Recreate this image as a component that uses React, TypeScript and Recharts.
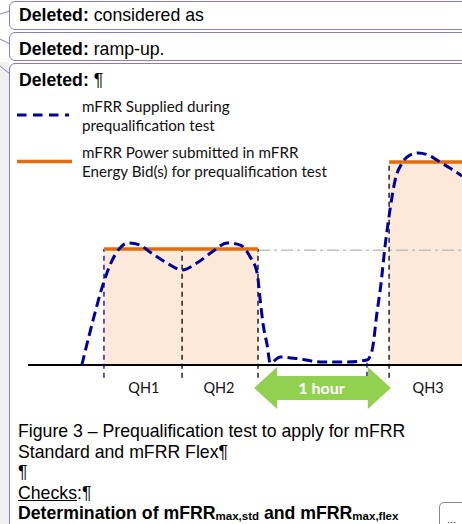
import React from 'react';
import {
  ComposedChart,
  Line,
  XAxis,
  YAxis,
  ReferenceArea,
  ReferenceLine,
  ReferenceDot,
  Legend,
} from 'recharts';

// Abstract time axis (0..100) and power axis (100 = bid power in QH1/QH2)
const supplyTime = [
  12.4, 15.0, 17.1, 18.9, 21.2, 23.0, 25.8, 28.1, 32.0, 35.5, 38.9, 42.4, 45.9, 48.9, 51.2,
  52.8, 53.5, 54.2, 55.1, 55.8, 58.1, 62.7, 67.3, 73.5, 78.1, 79.3, 80.4, 81.3, 82.3, 83.4,
  84.6, 86.2, 88.0, 89.9, 92.2, 94.9, 97.2, 100,
];
const supplyPower = [
  0, 38.8, 67.2, 86.2, 100.9, 105.2, 103.4, 97.4, 87.9, 81.9, 87.9, 97.4, 105.2, 103.4, 93.1,
  79.3, 56, 34.5, 17.2, 1.7, 6.9, 5.2, 2.6, 2.6, 4.3, 12.9, 44.8, 69, 103.4, 133.6,
  159.5, 174.1, 181, 182.8, 181, 175, 169.8, 162.9,
];

const quarterHours = ['QH1', 'QH2', 'QH3'];
const qhStart = [17.5, 35.5, 83.2];
const qhLabelTime = [26.7, 44, 92.2];
const bidStart = [17.5, 83.2];
const bidEnd = [53, 100];
const bidPower = [100, 175];
const dividerTime = [35.5, 53, 83.2];
const dividerTop = [100, 100, 175];
const hourStart = 52.1;
const hourEnd = 83.6;
const hourMark = 78.1;
const hourLabel = '1 hour';

const legendLabels = [
  ['mFRR Supplied during', 'prequalification test'],
  ['mFRR Power submitted in mFRR', 'Energy Bid(s) for prequalification test'],
];

const BLUE = '#00009c';
const ORANGE = '#e46c0a';
const PEACH = '#fde9d9';
const GREEN = '#92d050';
const PURPLE = '#8c7bc0';

const data = supplyTime.map((t, i) => ({ t, power: supplyPower[i] }));

const legendFont = 'Lato, "Open Sans", sans-serif';

const renderLegend = () => (
  <div style={{ position: 'relative', width: 0, height: 0 }}>
    <svg
      style={{ position: 'absolute', left: 0, top: 0, overflow: 'visible' }}
      width={80}
      height={180}
    >
      <line x1={17} y1={115} x2={69} y2={115} stroke={BLUE} strokeWidth={3} strokeDasharray="9.5 6.5" />
      <line x1={17} y1={161.5} x2={72} y2={161.5} stroke={ORANGE} strokeWidth={3.5} />
    </svg>
    {legendLabels.map((lines, i) => (
      <div
        key={i}
        style={{
          position: 'absolute',
          left: 82,
          top: i === 0 ? 97 : 143,
          whiteSpace: 'nowrap',
          fontFamily: legendFont,
          fontSize: 15.2,
          lineHeight: '18.5px',
          color: '#111',
        }}
      >
        {lines.map((l, j) => (
          <div key={j}>{l}</div>
        ))}
      </div>
    ))}
  </div>
);

const ArrowShape = (props: any) => {
  const { x, y, width, height } = props;
  const head = 23;
  const inset = height * 0.215;
  const midY = y + height / 2;
  const pts = [
    [x, midY],
    [x + head, y],
    [x + head, y + inset],
    [x + width - head, y + inset],
    [x + width - head, y],
    [x + width, midY],
    [x + width - head, y + height],
    [x + width - head, y + height - inset],
    [x + head, y + height - inset],
    [x + head, y + height],
  ]
    .map((p) => p.join(','))
    .join(' ');
  return (
    <g>
      <polygon points={pts} fill={GREEN} />
      <text
        x={x + width / 2 - 1}
        y={midY + 6}
        textAnchor="middle"
        fill="#fff"
        fontFamily={legendFont}
        fontWeight={700}
        fontSize={16}
      >
        {hourLabel}
      </text>
    </g>
  );
};

const QhLabel = (label: string) => (props: any) => (
  <text
    x={props.cx}
    y={props.cy + 1.5}
    textAnchor="middle"
    fill="#111"
    fontFamily={legendFont}
    fontSize={14.5}
  >
    {label}
  </text>
);

const docFont = '"Liberation Sans", Arial, sans-serif';
const docSize = 17.7;

const boxStyle = (top: number, height: number): React.CSSProperties => ({
  position: 'absolute',
  left: 9,
  top,
  width: 480,
  height,
  border: `1.5px solid ${PURPLE}`,
  borderRadius: 6,
  boxSizing: 'border-box',
  background: '#fff',
});

const deletedLine = (top: number, rest: string) => (
  <div
    style={{
      position: 'absolute',
      left: 19,
      top,
      fontFamily: docFont,
      fontSize: docSize,
      lineHeight: '20px',
      whiteSpace: 'nowrap',
      color: '#000',
    }}
  >
    <b>Deleted:</b> {rest}
  </div>
);

export default function App() {
  return (
    <div
      style={{
        position: 'absolute',
        left: 0,
        top: 0,
        width: 462,
        height: 524,
        overflow: 'hidden',
        background: '#fff',
      }}
    >
      <div style={{ position: 'absolute', left: 0, top: 62, width: 9, height: 470, background: '#f0f0f0' }} />
      <svg style={{ position: 'absolute', left: 0, top: 0 }} width={12} height={80}>
        <line x1={0} y1={14} x2={10} y2={11} stroke={PURPLE} strokeWidth={1} />
        <line x1={0} y1={39} x2={10} y2={44} stroke={PURPLE} strokeWidth={1} />
        <line x1={0} y1={66} x2={10} y2={74} stroke={PURPLE} strokeWidth={1} />
      </svg>
      <div style={boxStyle(1, 29)} />
      <div style={boxStyle(32, 29)} />
      <div style={boxStyle(63, 500)} />
      {deletedLine(5, 'considered as')}
      {deletedLine(39, 'ramp-up.')}
      {deletedLine(70, '¶')}

      <div style={{ position: 'absolute', left: 0, top: 0 }}>
        <ComposedChart
          width={462}
          height={524}
          data={data}
          margin={{ top: 133, right: 0, bottom: 101, left: 28 }}
        >
          <XAxis dataKey="t" type="number" domain={[0, 100]} hide allowDataOverflow />
          <YAxis type="number" domain={[-50, 200]} hide allowDataOverflow />
          <Legend verticalAlign="top" wrapperStyle={{ top: 0, left: 0, width: 0, height: 0 }} content={renderLegend} />
          {bidStart.map((s, i) => (
            <ReferenceArea
              key={`fill${i}`}
              x1={s}
              x2={bidEnd[i]}
              y1={0}
              y2={bidPower[i]}
              fill={PEACH}
              fillOpacity={1}
              stroke="none"
              ifOverflow="visible"
            />
          ))}
          <ReferenceLine stroke="#000" strokeWidth={2} ifOverflow="visible" segment={[{ x: 0, y: 0 }, { x: 100, y: 0 }]} />
          <ReferenceLine
            segment={[{ x: bidEnd[0], y: 99 }, { x: 100, y: 99 }]}
            stroke="#c0c0c0"
            strokeWidth={1.5}
            strokeDasharray="12 4 3 4"
            ifOverflow="visible"
          />
          <ReferenceLine
            segment={[{ x: qhStart[0], y: -11 }, { x: qhStart[0], y: 100 }]}
            stroke={BLUE}
            strokeWidth={1.3}
            strokeDasharray="5 4"
            ifOverflow="visible"
          />
          {dividerTime.map((d, i) => (
            <ReferenceLine
              key={`div${i}`}
              segment={[{ x: d, y: -11 }, { x: d, y: dividerTop[i] }]}
              stroke="#000"
              strokeWidth={1.3}
              strokeDasharray="5 4"
              ifOverflow="visible"
            />
          ))}
          {bidStart.map((s, i) => (
            <ReferenceLine
              key={`bid${i}`}
              segment={[{ x: s, y: bidPower[i] }, { x: bidEnd[i], y: bidPower[i] }]}
              stroke={ORANGE}
              strokeWidth={3.5}
              ifOverflow="visible"
            />
          ))}
          <ReferenceArea
            x1={hourStart}
            x2={hourEnd}
            y1={-37.9}
            y2={-1.7}
            ifOverflow="visible"
            shape={<ArrowShape />}
          />
          <ReferenceLine
            segment={[{ x: hourMark, y: 2 }, { x: hourMark, y: -9.5 }]}
            stroke={BLUE}
            strokeWidth={1.3}
            strokeDasharray="5 4"
            ifOverflow="visible"
          />
          {quarterHours.map((q, i) => (
            <ReferenceDot
              key={q}
              x={qhLabelTime[i]}
              y={-22.8}
              r={0}
              ifOverflow="visible"
              shape={QhLabel(q)}
            />
          ))}
          <Line
            type="monotone"
            dataKey="power"
            stroke={BLUE}
            strokeWidth={3}
            strokeDasharray="10 5"
            dot={false}
            activeDot={false}
            isAnimationActive={false}
          />
        </ComposedChart>
      </div>

      <div
        style={{
          position: 'absolute',
          left: 18,
          top: 421,
          fontFamily: docFont,
          fontSize: docSize,
          lineHeight: '20.5px',
          color: '#000',
          whiteSpace: 'nowrap',
        }}
      >
        <div>Figure 3 – Prequalification test to apply for mFRR</div>
        <div>Standard and mFRR Flex¶</div>
        <div>¶</div>
        <div>
          <span style={{ textDecoration: 'underline' }}>Checks</span>:¶
        </div>
        <div style={{ fontWeight: 700 }}>
          Determination of mFRR
          <span style={{ fontSize: 11.5, verticalAlign: -1 }}>max,std</span> and mFRR
          <span style={{ fontSize: 11.5, verticalAlign: -1 }}>max,flex</span>
        </div>
      </div>
      <div
        style={{
          position: 'absolute',
          left: 439,
          top: 502,
          width: 40,
          height: 40,
          border: '1px solid #8a8a8a',
          borderRadius: 5,
          background: '#fff',
          fontFamily: docFont,
          fontSize: 11,
          color: '#333',
          paddingLeft: 7,
          paddingTop: 10,
          boxSizing: 'border-box',
        }}
      >
        ...
      </div>
    </div>
  );
}
